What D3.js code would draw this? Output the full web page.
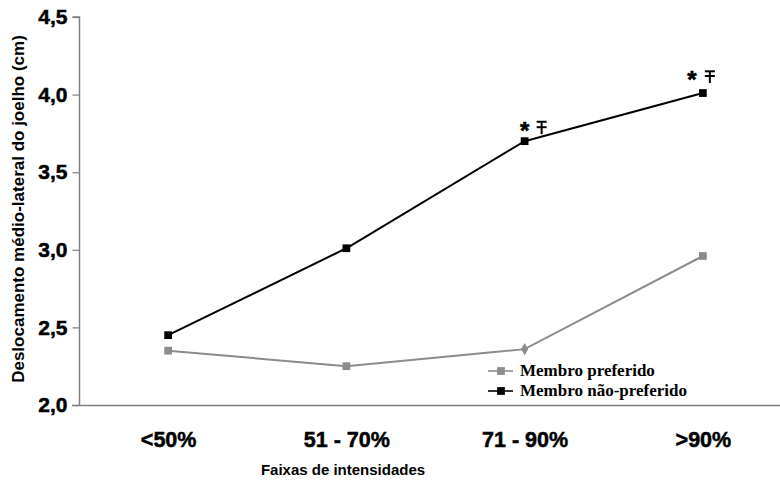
<!DOCTYPE html>
<html>
<head>
<meta charset="utf-8">
<script src="https://cdn.jsdelivr.net/npm/d3@7"></script>
<style>
  html, body { margin: 0; padding: 0; background: #fff; }
  svg { display: block; }
</style>
</head>
<body>
<svg id="chart" width="780" height="482"></svg>
<script>
// Intensity bands on the x axis
const categories = ["<50%", "51 - 70%", "71 - 90%", ">90%"];
// Mean medio-lateral knee displacement (cm)
const preferido = [2.35, 2.25, 2.36, 2.96];
const naoPreferido = [2.45, 3.01, 3.70, 4.01];
// Marker shape per point of the preferred limb
const preferidoShapes = ["square", "square", "diamond", "square"];
// Upper deviation bars of the non-preferred limb (null where none is drawn)
const barLow = [null, null, 3.745, 4.075];
const barMid = [null, null, 3.79, 4.12];
const barHigh = [null, null, 3.825, 4.15];
// Significance marks
const significant = [false, false, true, true];
// Y axis ticks
const yTicks = [2.0, 2.5, 3.0, 3.5, 4.0, 4.5];

const svg = d3.select("#chart");
const axisColor = "#7f7f7f";
const grayColor = "#8c8c8c";
const sans = "Arial, 'Liberation Sans', sans-serif";

const x = d3.scalePoint().domain(categories).range([79, 792]).padding(0.5);
const y = d3.scaleLinear().domain([2.0, 4.5]).range([405, 17]);

const fmt = v => d3.format(".1f")(v).replace(".", ",");

// Y axis
const yAxis = d3.axisLeft(y).tickValues(yTicks).tickFormat(fmt).tickSize(7).tickPadding(5);
const gy = svg.append("g").attr("transform", "translate(79.5,0)").call(yAxis);
gy.select(".domain").attr("stroke", axisColor).attr("stroke-width", 1.5).attr("d", `M-7,${y(4.5)}H0V${y(2.0)}`);
gy.selectAll(".tick line").attr("stroke", axisColor).attr("stroke-width", 1.2);
gy.selectAll(".tick text")
  .attr("fill", "#000")
  .attr("stroke", "#000").attr("stroke-width", 0.5)
  .style("font-family", sans)
  .style("font-weight", "bold")
  .style("font-size", "21px");

// X axis baseline across the full width
svg.append("line")
  .attr("x1", 72).attr("x2", 780)
  .attr("y1", y(2.0) + 0.5).attr("y2", y(2.0) + 0.5)
  .attr("stroke", axisColor).attr("stroke-width", 1.5);

// Category labels
const xAxis = d3.axisBottom(x).tickSize(0).tickPadding(27);
const gx = svg.append("g").attr("transform", `translate(0,${y(2.0)})`).call(xAxis);
gx.select(".domain").remove();
gx.selectAll(".tick text")
  .attr("fill", "#000")
  .attr("stroke", "#000").attr("stroke-width", 0.5)
  .style("font-family", sans)
  .style("font-weight", "bold")
  .style("font-size", "21.5px");

// Axis titles
svg.append("text")
  .attr("x", 343).attr("y", 475)
  .attr("text-anchor", "middle")
  .style("font-family", sans)
  .style("font-weight", "bold")
  .style("font-size", "15px")
  .text("Faixas de intensidades");

svg.append("text")
  .attr("transform", `translate(24,${209}) rotate(-90)`)
  .attr("text-anchor", "middle")
  .style("font-family", sans)
  .style("font-weight", "bold")
  .style("font-size", "17px")
  .text("Deslocamento médio-lateral do joelho (cm)");

// Series lines
const line = d3.line().x((d, i) => x(categories[i])).y(d => y(d));

svg.append("path").datum(preferido)
  .attr("d", line).attr("fill", "none")
  .attr("stroke", grayColor).attr("stroke-width", 2);

svg.append("path").datum(naoPreferido)
  .attr("d", line).attr("fill", "none")
  .attr("stroke", "#000").attr("stroke-width", 2);

// Markers
const sq = d3.symbol().type(d3.symbolSquare).size(60);
const dm = d3.symbol().type(d3.symbolDiamond).size(45);

svg.append("g").selectAll("path").data(preferido).join("path")
  .attr("transform", (d, i) => `translate(${x(categories[i])},${y(d)})`)
  .attr("d", (d, i) => preferidoShapes[i] === "diamond" ? dm() : sq())
  .attr("fill", grayColor);

svg.append("g").selectAll("path").data(naoPreferido).join("path")
  .attr("transform", (d, i) => `translate(${x(categories[i])},${y(d)})`)
  .attr("d", sq())
  .attr("fill", "#000");

// Deviation bars beside the non-preferred points
const barOffset = [0, 0, 17, 7];
const bars = svg.append("g").attr("stroke", "#000").attr("stroke-width", 2);
categories.forEach((c, i) => {
  if (barHigh[i] == null) return;
  const bx = x(c) + barOffset[i];
  bars.append("line").attr("x1", bx).attr("x2", bx).attr("y1", y(barLow[i])).attr("y2", y(barHigh[i]));
  bars.append("line").attr("x1", bx - 5).attr("x2", bx + 5).attr("y1", y(barHigh[i])).attr("y2", y(barHigh[i]));
  bars.append("line").attr("x1", bx - 5).attr("x2", bx + 5).attr("y1", y(barMid[i])).attr("y2", y(barMid[i]));
});

// Significance asterisks
const starOffset = [0, 0, 0, -11];
svg.append("g").selectAll("text").data(categories.filter((c, i) => significant[i])).join("text")
  .attr("x", c => x(c) + starOffset[categories.indexOf(c)])
  .attr("y", c => y(barHigh[categories.indexOf(c)]) + 17)
  .attr("text-anchor", "middle")
  .attr("stroke", "#000").attr("stroke-width", 0.6)
  .style("font-family", sans)
  .style("font-weight", "bold")
  .style("font-size", "24px")
  .text("*");

// Legend
const legendItems = [
  { label: "Membro preferido", color: grayColor },
  { label: "Membro não-preferido", color: "#000" }
];
const legend = svg.append("g").attr("transform", "translate(488,371)");
legendItems.forEach((d, i) => {
  const g = legend.append("g").attr("transform", `translate(0,${i * 20})`);
  g.append("line").attr("x1", 0).attr("x2", 25).attr("y1", 0).attr("y2", 0)
    .attr("stroke", d.color).attr("stroke-width", 1.6);
  g.append("path").attr("transform", "translate(13,0)").attr("d", sq()).attr("fill", d.color);
  g.append("text").attr("x", 32).attr("y", 5)
    .style("font-family", "'Times New Roman', 'Liberation Serif', serif")
    .style("font-weight", "bold")
    .style("font-size", "17px")
    .attr("fill", "#000")
    .text(d.label);
});
</script>
</body>
</html>
